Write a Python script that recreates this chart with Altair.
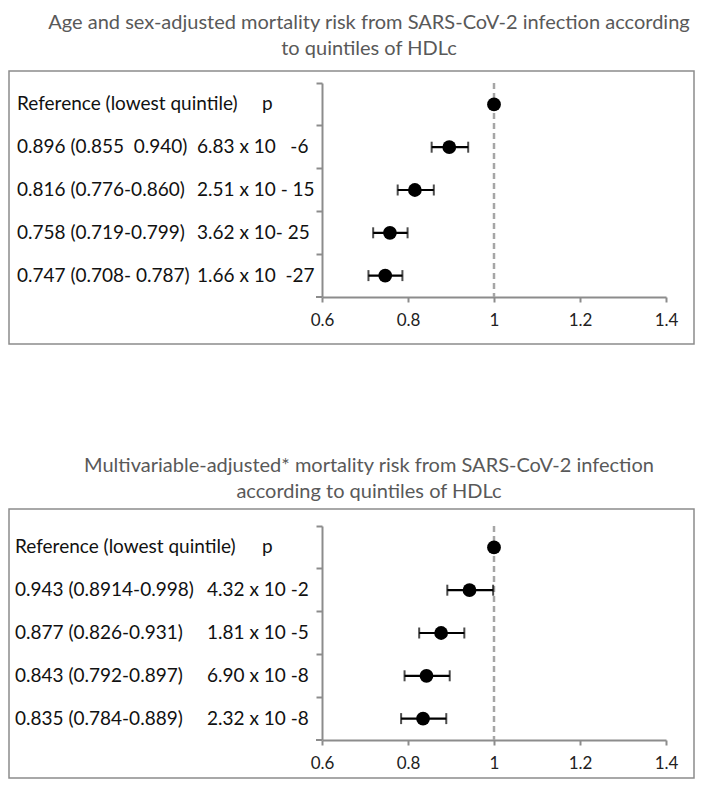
import altair as alt
import pandas as pd

# ---------------- data ----------------
rows = ["r0", "r1", "r2", "r3", "r4"]

title1 = ["Age and sex-adjusted mortality risk from SARS-CoV-2 infection according",
          "to quintiles of HDLc"]
est1 = [1.0, 0.896, 0.816, 0.758, 0.747]
lo1 = [None, 0.855, 0.776, 0.719, 0.708]
hi1 = [None, 0.940, 0.860, 0.799, 0.787]
ci1 = ["Reference (lowest quintile)", "0.896 (0.855\u00a0\u00a00.940)", "0.816 (0.776-0.860)",
       "0.758 (0.719-0.799)", "0.747 (0.708- 0.787)"]
p1 = ["p", "6.83 x 10\u00a0\u00a0\u00a0-6", "2.51 x 10 - 15", "3.62 x 10- 25",
      "1.66 x 10\u00a0\u00a0-27"]

title2 = ["Multivariable-adjusted* mortality risk from SARS-CoV-2 infection",
          "according to quintiles of HDLc"]
est2 = [1.0, 0.943, 0.877, 0.843, 0.835]
lo2 = [None, 0.8914, 0.826, 0.792, 0.784]
hi2 = [None, 0.998, 0.931, 0.897, 0.889]
ci2 = ["Reference (lowest quintile)", "0.943 (0.8914-0.998)", "0.877 (0.826-0.931)",
       "0.843 (0.792-0.897)", "0.835 (0.784-0.889)"]
p2 = ["p", "4.32 x 10 -2", "1.81 x 10 -5", "6.90 x 10 -8", "2.32 x 10 -8"]

x_ticks = [0.6, 0.8, 1.0, 1.2, 1.4]

FONT = "Lato"
GRAY = "#8c8c8c"
W, H = 344, 214


def panel(title, est, lo, hi, ci, p, p_x, ci_x, box_top, box_bottom):
    df = pd.DataFrame({"row": rows, "est": est, "lo": lo, "hi": hi, "ci": ci, "p": p})
    one = pd.DataFrame({"a": [0]})

    yenc = alt.Y("row:N", scale=alt.Scale(domain=rows, paddingInner=0, paddingOuter=0),
                 axis=alt.Axis(title=None, labels=False, ticks=True, tickSize=6,
                               bandPosition=0, domainColor=GRAY, domainWidth=2,
                               tickColor=GRAY, tickWidth=2, grid=False))
    xscale = alt.Scale(domain=[0.6, 1.4], zero=False, nice=False)
    xaxis = alt.Axis(values=x_ticks, format="~g", title=None, grid=False, tickSize=5,
                     domainColor=GRAY, domainWidth=2, tickColor=GRAY, tickWidth=2,
                     labelFontSize=17, labelFont=FONT, labelColor="#222222",
                     labelPadding=10, labelFlush=False)

    # invisible headroom so the title is not clipped at the page edge
    spacer = alt.Chart(one).mark_rule(opacity=0).encode(
        x=alt.value(0), x2=alt.value(1), y=alt.value(-75))

    box = alt.Chart(one).mark_rect(fillOpacity=0, stroke=GRAY, strokeWidth=1.5).encode(
        x=alt.value(-313), x2=alt.value(372), y=alt.value(box_top), y2=alt.value(box_bottom))

    t1 = alt.Chart(one).mark_text(font=FONT, fontSize=20, color="#595959",
                                  align="center", baseline="middle").encode(
        x=alt.value(47), y=alt.value(-60), text=alt.value(title[0]))
    t2 = alt.Chart(one).mark_text(font=FONT, fontSize=20, color="#595959",
                                  align="center", baseline="middle").encode(
        x=alt.value(47), y=alt.value(-34), text=alt.value(title[1]))

    corner = alt.Chart(one).mark_rule(color=GRAY, strokeWidth=2).encode(
        x=alt.value(-6), x2=alt.value(0), y=alt.value(H))

    ref = alt.Chart(one).mark_rule(color="#a6a6a6", strokeWidth=2.5,
                                   strokeDash=[6, 4]).encode(
        x=alt.datum(1.0, scale=xscale))

    base = alt.Chart(df)
    bars = base.transform_filter("isValid(datum.lo)").mark_rule(
        color="black", strokeWidth=2.2).encode(
        x=alt.X("lo:Q", scale=xscale, axis=xaxis), x2="hi:Q", y=yenc)
    cap_lo = base.transform_filter("isValid(datum.lo)").mark_tick(
        color="black", thickness=2, size=11).encode(
        x=alt.X("lo:Q", scale=xscale), y=alt.Y("row:N"))
    cap_hi = base.transform_filter("isValid(datum.hi)").mark_tick(
        color="black", thickness=2, size=11).encode(
        x=alt.X("hi:Q", scale=xscale), y=alt.Y("row:N"))
    pts = base.mark_circle(color="black", opacity=1, size=190).encode(
        x=alt.X("est:Q", scale=xscale, axis=xaxis), y=yenc)

    txt_ci = base.mark_text(font=FONT, fontSize=19, color="#111111", align="left",
                            baseline="middle").encode(
        x=alt.value(ci_x), y=alt.Y("row:N"), text="ci:N")
    txt_p = base.transform_filter("datum.p != 'p'").mark_text(
        font=FONT, fontSize=19, color="#111111", align="left", baseline="middle").encode(
        x=alt.value(p_x), y=alt.Y("row:N"), text="p:N")
    txt_ph = base.transform_filter("datum.p == 'p'").mark_text(
        font=FONT, fontSize=19, color="#111111", align="left", baseline="middle").encode(
        x=alt.value(-60), y=alt.Y("row:N"), text="p:N")

    return alt.layer(spacer, box, t1, t2, corner, ref, bars, cap_lo, cap_hi, pts,
                     txt_ci, txt_p, txt_ph).properties(width=W, height=H)


c1 = panel(title1, est1, lo1, hi1, ci1, p1, -125, -305, -12, 261)
c2 = panel(title2, est2, lo2, hi2, ci2, p2, -115, -307, -17, 252)

chart = alt.vconcat(c1, c2, spacing=106).properties(padding=0).configure_view(stroke=None)

chart.save("out.html", embed_options={"renderer": "svg", "actions": False})
